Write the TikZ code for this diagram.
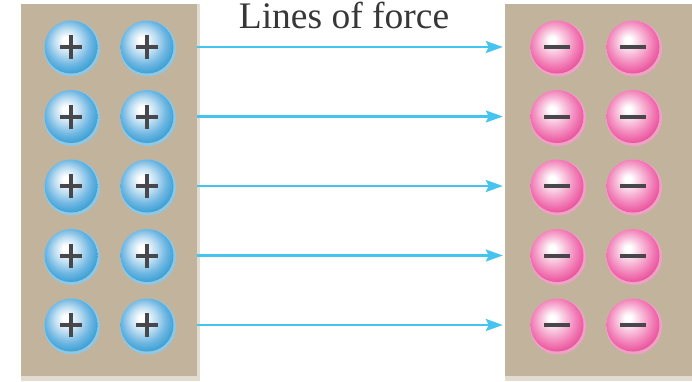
\documentclass[tikz,border=0pt]{standalone}
\usepackage{fontspec}
\setmainfont{Liberation Serif}
\usepackage{tikz}
\usetikzlibrary{arrows.meta}
\usetikzlibrary{positioning}

\definecolor{platetan}{RGB}{194,179,156}
\definecolor{plateedge}{RGB}{226,219,207}
\definecolor{fieldblue}{RGB}{70,196,240}
\definecolor{signgray}{RGB}{72,72,76}
\definecolor{titlegray}{RGB}{55,55,55}
\definecolor{bluelt}{RGB}{190,222,242}
\definecolor{bluemid}{RGB}{110,182,226}
\definecolor{bluedk}{RGB}{52,158,212}
\definecolor{bluehalo}{RGB}{140,200,232}
\definecolor{pinklt}{RGB}{248,190,218}
\definecolor{pinkmid}{RGB}{242,128,184}
\definecolor{pinkdk}{RGB}{234,78,154}
\definecolor{pinkhalo}{RGB}{242,160,200}

% shaded balls, highlight up and to the left
\pgfdeclareradialshading{blueball}{\pgfpoint{-5bp}{7bp}}{%
  color(0bp)=(white); color(3bp)=(white); color(12bp)=(bluelt);
  color(21bp)=(bluemid); color(29bp)=(bluedk); color(50bp)=(bluedk)}
\pgfdeclareradialshading{pinkball}{\pgfpoint{-5bp}{7bp}}{%
  color(0bp)=(white); color(3bp)=(white); color(12bp)=(pinklt);
  color(21bp)=(pinkmid); color(29bp)=(pinkdk); color(50bp)=(pinkdk)}

\tikzset{
  charge/.style={circle, minimum size=53pt, inner sep=0pt},
  signbar/.style={draw=signgray, line width=4pt},
  pluscharge/.style={charge, shading=blueball,
    preaction={draw=bluehalo, line width=3pt,
      transform canvas={shift={(1pt,-1.5pt)}}},
    path picture={
      \draw[signbar] (path picture bounding box.center) ++(-11pt,0) -- ++(22pt,0);
      \draw[signbar] (path picture bounding box.center) ++(0,-12pt) -- ++(0,24pt);}},
  minuscharge/.style={charge, shading=pinkball,
    preaction={draw=pinkhalo, line width=3pt,
      transform canvas={shift={(1pt,-1.5pt)}}},
    path picture={
      \draw[signbar] (path picture bounding box.center) ++(-13pt,0) -- ++(26pt,0);}},
  plate/.style={fill=platetan, inner sep=0pt, minimum height=372pt},
  forceline/.style={fieldblue, line width=2.6pt,
    -{Stealth[length=17pt, width=12pt, inset=3pt]}, shorten >=2pt}
}

\begin{document}
\begin{tikzpicture}[x=1pt, y=1pt, node distance=69.5pt and 76pt, on grid]
        \useasboundingbox (0,0) rectangle (692,381);

        % Plates
        \node[plate, minimum width=176pt] (leftplate) at (109,191) {};
        \node[plate, minimum width=187pt] (rightplate) at (598.5,191) {};
        \fill[plateedge] (leftplate.south east) rectangle (leftplate.north east -| 200,0);
        \fill[plateedge] (leftplate.south west) rectangle (200,0);
        \fill[plateedge] (rightplate.south west) rectangle (692,0);

        % Positive charges
        \node[pluscharge] (p11) at (71,334) {};
        \node[pluscharge, right=of p11] (p12) {};
        \node[pluscharge, below=of p11] (p21) {};
        \node[pluscharge, right=of p21] (p22) {};
        \node[pluscharge, below=of p21] (p31) {};
        \node[pluscharge, right=of p31] (p32) {};
        \node[pluscharge, below=of p31] (p41) {};
        \node[pluscharge, right=of p41] (p42) {};
        \node[pluscharge, below=of p41] (p51) {};
        \node[pluscharge, right=of p51] (p52) {};

        % Negative charges
        \node[minuscharge] (m11) at (557,334) {};
        \node[minuscharge, right=of m11] (m12) {};
        \node[minuscharge, below=of m11] (m21) {};
        \node[minuscharge, right=of m21] (m22) {};
        \node[minuscharge, below=of m21] (m31) {};
        \node[minuscharge, right=of m31] (m32) {};
        \node[minuscharge, below=of m31] (m41) {};
        \node[minuscharge, right=of m41] (m42) {};
        \node[minuscharge, below=of m41] (m51) {};
        \node[minuscharge, right=of m51] (m52) {};

        % Title
        \node[anchor=base, text=titlegray, font=\fontsize{37.5}{40}\selectfont]
          (title) at (344,352) {Lines of force};

        % Lines of force
        \draw[forceline] (leftplate.east |- p12) -- (rightplate.west |- m11);
        \draw[forceline] (leftplate.east |- p22) -- (rightplate.west |- m21);
        \draw[forceline] (leftplate.east |- p32) -- (rightplate.west |- m31);
        \draw[forceline] (leftplate.east |- p42) -- (rightplate.west |- m41);
        \draw[forceline] (leftplate.east |- p52) -- (rightplate.west |- m51);
    \end{tikzpicture}
\end{document}
